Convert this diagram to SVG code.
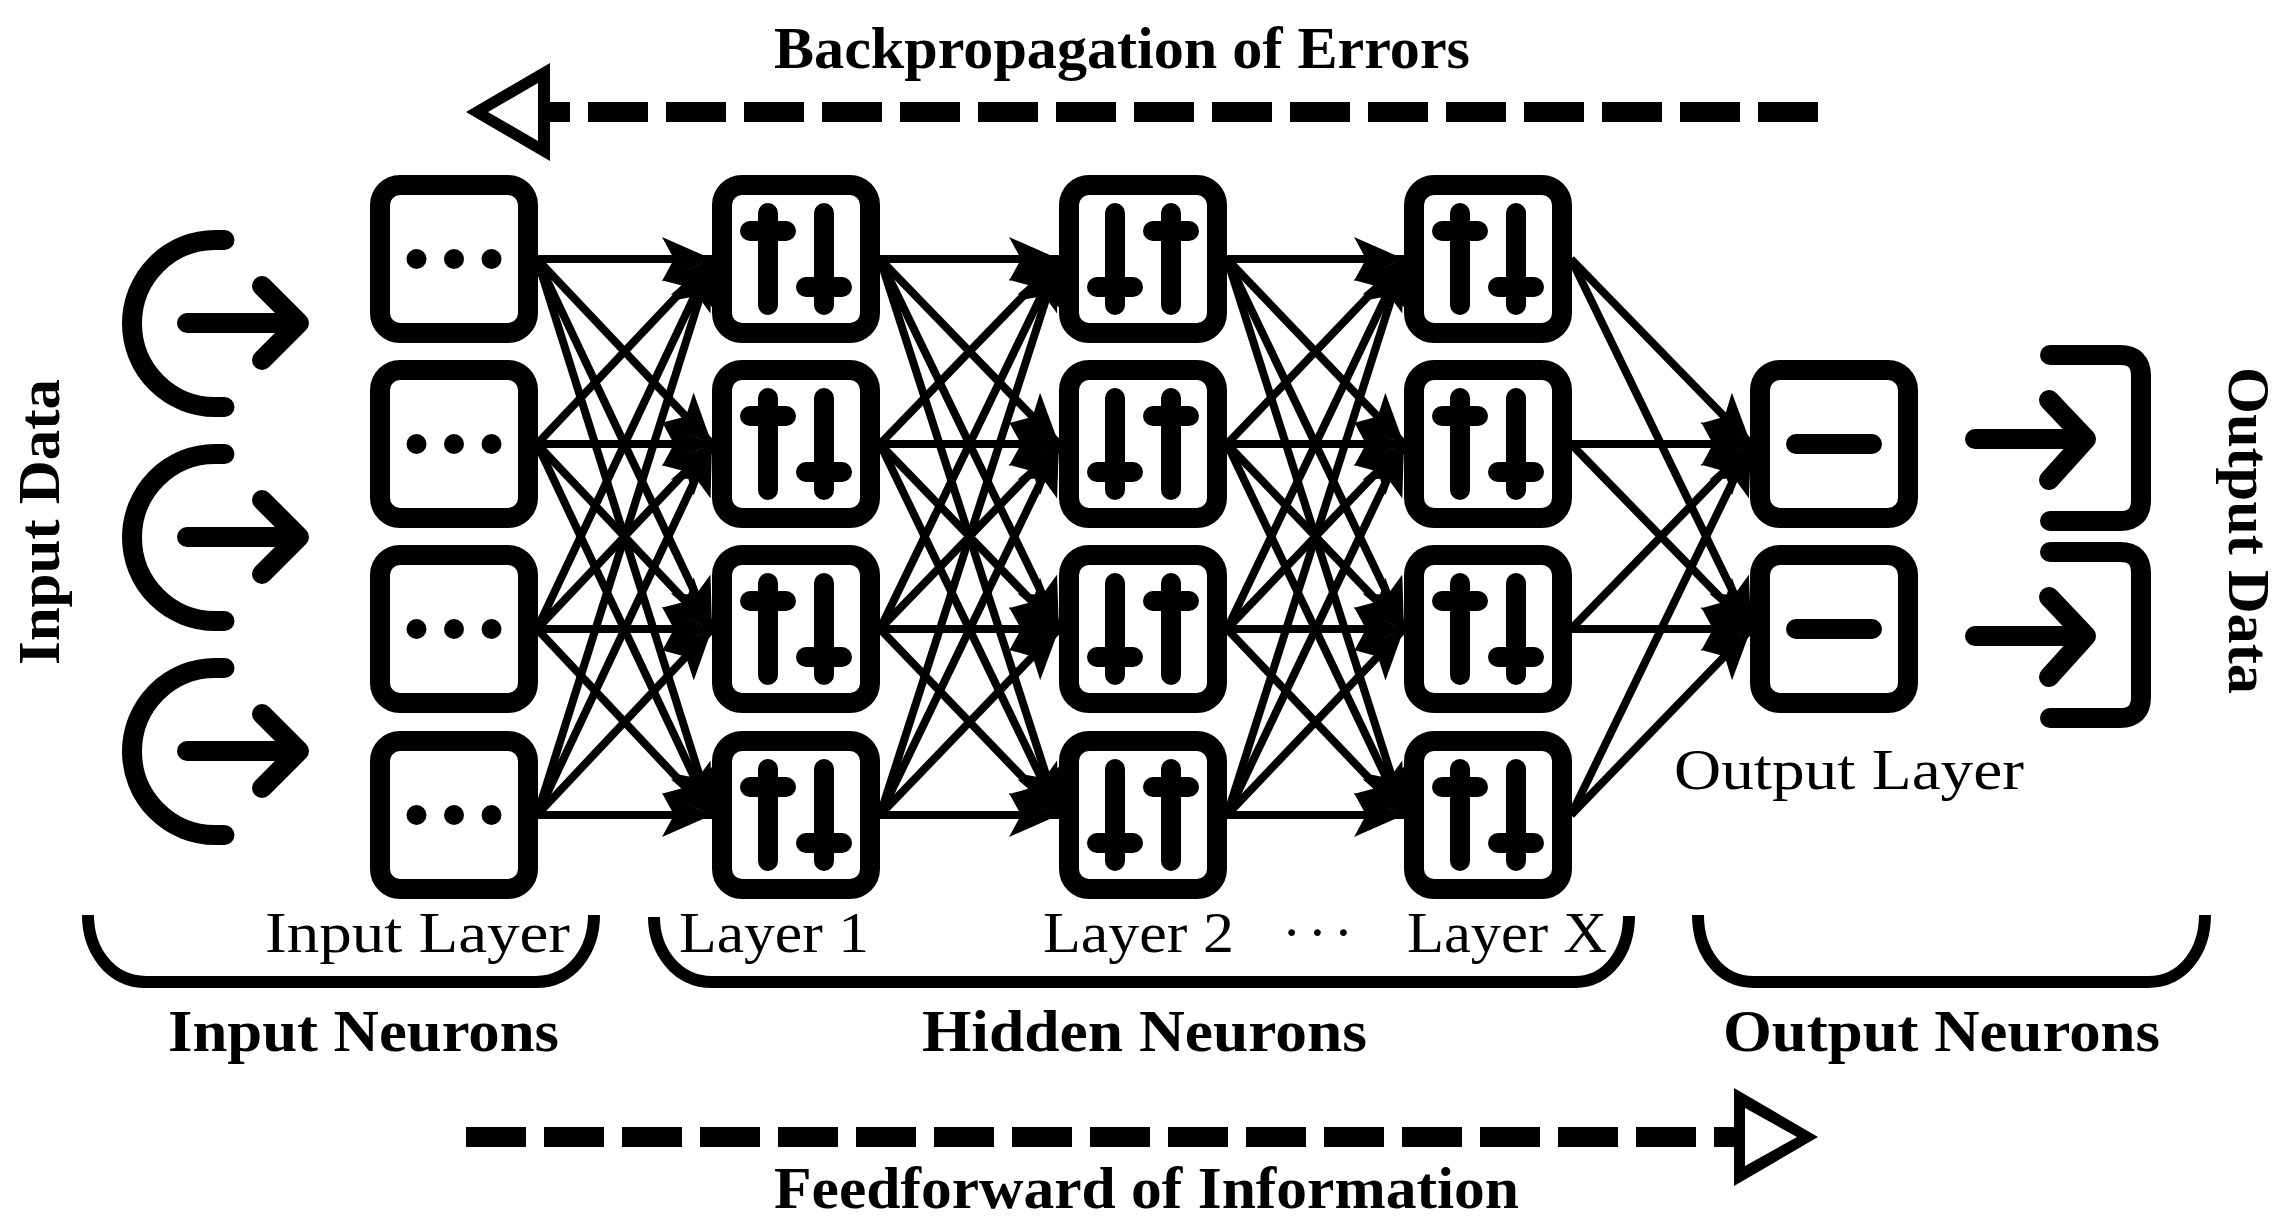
<svg xmlns="http://www.w3.org/2000/svg" width="2291" height="1230" viewBox="0 0 2291 1230">
<style>
text{font-family:"Liberation Serif","Times New Roman",serif;fill:#000}
.r{font-size:58px}
.b{font-size:59px;font-weight:bold}
.box{fill:#fff;stroke:#000;stroke-width:20}
.ic{fill:none;stroke:#000;stroke-width:20;stroke-linecap:round;stroke-linejoin:round}
.c line{stroke:#000;stroke-width:8;marker-end:url(#h)}
.br{fill:none;stroke:#000;stroke-width:12}
.dash{fill:none;stroke:#000;stroke-width:20;stroke-dasharray:60 18}
</style>
<defs>
<marker id="h" markerUnits="userSpaceOnUse" markerWidth="52" markerHeight="50" refX="50" refY="25" orient="auto" overflow="visible"><path d="M0,3L50,25L0,47L12,25Z" fill="#000"/></marker>
<rect id="bx" class="box" x="-74" y="-74" width="148" height="148" rx="20"/>
<g id="dots"><use href="#bx"/><circle cx="-37.500" r="10"/><circle r="10"/><circle cx="37.500" r="10"/></g>
<g id="up"><use href="#bx"/><path class="ic" d="M-28,-46V46M-46,-28H-10M28,-46V46M10,28H46"/></g>
<g id="dn"><use href="#bx"/><path class="ic" d="M-28,-46V46M-46,28H-10M28,-46V46M10,-28H46"/></g>
<g id="mn"><use href="#bx"/><path class="ic" d="M-38,0H38"/></g>
<path id="inA" class="ic" d="M224.500,240H215A83,83.500 0 0 0 215,407H224.500M187,323H298M262,286L299,323L262,360"/>
<path id="outA" class="ic" d="M2050,355H2120Q2141,355 2141,376V500Q2141,521 2120,521H2050M1975,439H2085M2049,400L2086,439L2049,480"/>
</defs>
<g id="connectors" class="c">
<line x1="537" y1="259" x2="712" y2="259"/><line x1="537" y1="259" x2="712" y2="444"/><line x1="537" y1="259" x2="712" y2="629"/><line x1="537" y1="259" x2="712" y2="815"/>
<line x1="537" y1="444" x2="712" y2="259"/><line x1="537" y1="444" x2="712" y2="444"/><line x1="537" y1="444" x2="712" y2="629"/><line x1="537" y1="444" x2="712" y2="815"/>
<line x1="537" y1="629" x2="712" y2="259"/><line x1="537" y1="629" x2="712" y2="444"/><line x1="537" y1="629" x2="712" y2="629"/><line x1="537" y1="629" x2="712" y2="815"/>
<line x1="537" y1="815" x2="712" y2="259"/><line x1="537" y1="815" x2="712" y2="444"/><line x1="537" y1="815" x2="712" y2="629"/><line x1="537" y1="815" x2="712" y2="815"/>
<line x1="880" y1="259" x2="1059" y2="259"/><line x1="880" y1="259" x2="1059" y2="444"/><line x1="880" y1="259" x2="1059" y2="629"/><line x1="880" y1="259" x2="1059" y2="815"/>
<line x1="880" y1="444" x2="1059" y2="259"/><line x1="880" y1="444" x2="1059" y2="444"/><line x1="880" y1="444" x2="1059" y2="629"/><line x1="880" y1="444" x2="1059" y2="815"/>
<line x1="880" y1="629" x2="1059" y2="259"/><line x1="880" y1="629" x2="1059" y2="444"/><line x1="880" y1="629" x2="1059" y2="629"/><line x1="880" y1="629" x2="1059" y2="815"/>
<line x1="880" y1="815" x2="1059" y2="259"/><line x1="880" y1="815" x2="1059" y2="444"/><line x1="880" y1="815" x2="1059" y2="629"/><line x1="880" y1="815" x2="1059" y2="815"/>
<line x1="1227" y1="259" x2="1404" y2="259"/><line x1="1227" y1="259" x2="1404" y2="444"/><line x1="1227" y1="259" x2="1404" y2="629"/><line x1="1227" y1="259" x2="1404" y2="815"/>
<line x1="1227" y1="444" x2="1404" y2="259"/><line x1="1227" y1="444" x2="1404" y2="444"/><line x1="1227" y1="444" x2="1404" y2="629"/><line x1="1227" y1="444" x2="1404" y2="815"/>
<line x1="1227" y1="629" x2="1404" y2="259"/><line x1="1227" y1="629" x2="1404" y2="444"/><line x1="1227" y1="629" x2="1404" y2="629"/><line x1="1227" y1="629" x2="1404" y2="815"/>
<line x1="1227" y1="815" x2="1404" y2="259"/><line x1="1227" y1="815" x2="1404" y2="444"/><line x1="1227" y1="815" x2="1404" y2="629"/><line x1="1227" y1="815" x2="1404" y2="815"/>
<line x1="1571" y1="259" x2="1751" y2="444"/><line x1="1571" y1="259" x2="1751" y2="629"/>
<line x1="1571" y1="444" x2="1751" y2="444"/><line x1="1571" y1="444" x2="1751" y2="629"/>
<line x1="1571" y1="629" x2="1751" y2="444"/><line x1="1571" y1="629" x2="1751" y2="629"/>
<line x1="1571" y1="815" x2="1751" y2="444"/><line x1="1571" y1="815" x2="1751" y2="629"/>
</g>
<g id="input-1"><use href="#dots" x="454" y="259"/></g>
<g id="input-2"><use href="#dots" x="454" y="444"/></g>
<g id="input-3"><use href="#dots" x="454" y="629"/></g>
<g id="input-4"><use href="#dots" x="454" y="815"/></g>
<g id="hidden-1-1"><use href="#up" x="796" y="259"/></g>
<g id="hidden-1-2"><use href="#up" x="796" y="444"/></g>
<g id="hidden-1-3"><use href="#up" x="796" y="629"/></g>
<g id="hidden-1-4"><use href="#up" x="796" y="815"/></g>
<g id="hidden-2-1"><use href="#dn" x="1143" y="259"/></g>
<g id="hidden-2-2"><use href="#dn" x="1143" y="444"/></g>
<g id="hidden-2-3"><use href="#dn" x="1143" y="629"/></g>
<g id="hidden-2-4"><use href="#dn" x="1143" y="815"/></g>
<g id="hidden-x-1"><use href="#up" x="1488" y="259"/></g>
<g id="hidden-x-2"><use href="#up" x="1488" y="444"/></g>
<g id="hidden-x-3"><use href="#up" x="1488" y="629"/></g>
<g id="hidden-x-4"><use href="#up" x="1488" y="815"/></g>
<g id="output-1"><use href="#mn" x="1834" y="444"/></g>
<g id="output-2"><use href="#mn" x="1834" y="629"/></g>
<g id="input-arrow-1"><use href="#inA"/></g>
<g id="input-arrow-2"><use href="#inA" y="214"/></g>
<g id="input-arrow-3"><use href="#inA" y="428"/></g>
<g id="output-arrow-1"><use href="#outA"/></g>
<g id="output-arrow-2"><use href="#outA" y="197"/></g>
<g id="brackets">
<path class="br" d="M88,915C88,950 110,982 146,982H536C572,982 594,950 594,915"/>
<path class="br" d="M654,917C654,950 676,982 712,982H1575C1609,982 1629,950 1629,916"/>
<path class="br" d="M1698,915C1698,950 1718,982 1754,982H2148C2184,982 2205,950 2205,915"/>
</g>
<g id="backprop">
<path class="dash" d="M1818,112H550"/>
<path fill-rule="evenodd" d="M466,112L550,63V161ZM488,112L538,141V83Z"/>
<text class="b" x="774" y="68" textLength="696" lengthAdjust="spacingAndGlyphs">Backpropagation of Errors</text>
</g>
<g id="feedforward">
<path class="dash" d="M466,1137H1734"/>
<path fill-rule="evenodd" d="M1818,1137L1734,1088V1186ZM1797,1137L1745,1108V1166Z"/>
<text class="b" x="774" y="1208" textLength="745" lengthAdjust="spacingAndGlyphs">Feedforward of Information</text>
</g>
<text class="b" transform="translate(59,665) rotate(-90)" textLength="286" lengthAdjust="spacingAndGlyphs">Input Data</text>
<text class="b" transform="translate(2229,367) rotate(90)" textLength="327" lengthAdjust="spacingAndGlyphs">Output Data</text>
<text class="r" x="265" y="952" textLength="305" lengthAdjust="spacingAndGlyphs">Input Layer</text>
<text class="r" x="679" y="952" textLength="190" lengthAdjust="spacingAndGlyphs">Layer 1</text>
<text class="r" x="1043" y="952" textLength="191" lengthAdjust="spacingAndGlyphs">Layer 2</text>
<text class="r" x="1282" y="952" textLength="71" lengthAdjust="spacing">· · ·</text>
<text class="r" x="1407" y="952" textLength="200" lengthAdjust="spacingAndGlyphs">Layer X</text>
<text class="r" x="1674" y="789" textLength="350" lengthAdjust="spacingAndGlyphs">Output Layer</text>
<text class="b" x="168" y="1051" textLength="391" lengthAdjust="spacingAndGlyphs">Input Neurons</text>
<text class="b" x="922" y="1051" textLength="445" lengthAdjust="spacingAndGlyphs">Hidden Neurons</text>
<text class="b" x="1723" y="1051" textLength="437" lengthAdjust="spacingAndGlyphs">Output Neurons</text>
</svg>
